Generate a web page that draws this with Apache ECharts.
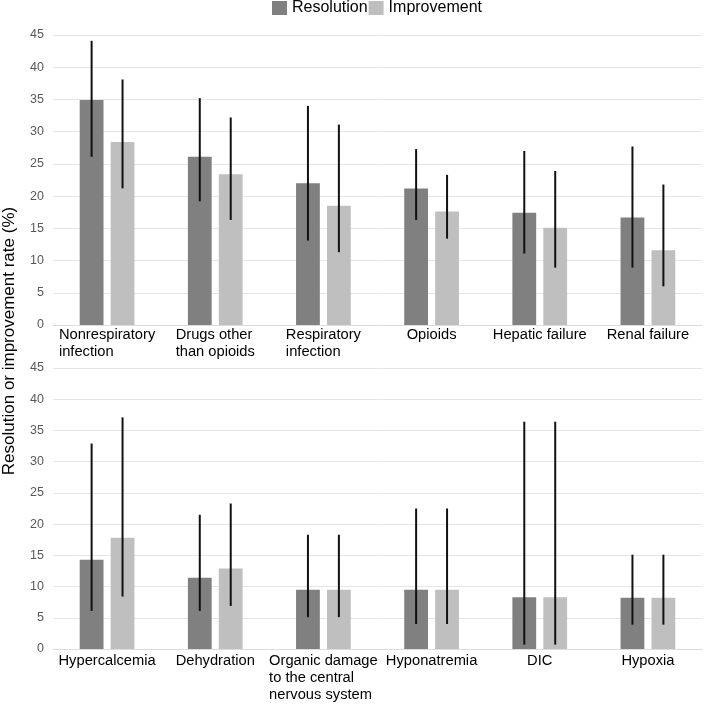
<!DOCTYPE html>
<html>
<head>
<meta charset="utf-8">
<script src="https://cdn.jsdelivr.net/npm/echarts@6/dist/echarts.min.js"></script>
<style>
html,body{margin:0;padding:0;background:#fff;}
#main{width:709px;height:704px;}
</style>
</head>
<body>
<div id="main"></div>
<script>
var topCategories = ['Nonrespiratory\ninfection', 'Drugs other\nthan opioids', 'Respiratory\ninfection', 'Opioids', 'Hepatic failure', 'Renal failure'];
var topResolution = [34.9, 26.1, 22.0, 21.2, 17.4, 16.7];
var topResolutionLow = [26.1, 19.2, 13.1, 16.3, 11.1, 8.9];
var topResolutionHigh = [44.1, 35.2, 34.0, 27.3, 27.0, 27.7];
var topImprovement = [28.4, 23.4, 18.5, 17.6, 15.1, 11.6];
var topImprovementLow = [21.2, 16.3, 11.3, 13.4, 8.9, 6.0];
var topImprovementHigh = [38.1, 32.2, 31.1, 23.3, 23.9, 21.8];

var bottomCategories = ['Hypercalcemia', 'Dehydration', 'Organic damage\nto the central\nnervous system', 'Hyponatremia', 'DIC', 'Hypoxia'];
var bottomResolution = [14.3, 11.4, 9.5, 9.5, 8.3, 8.2];
var bottomResolutionLow = [6.1, 6.1, 5.1, 4.0, 0.7, 3.9];
var bottomResolutionHigh = [32.9, 21.5, 18.3, 22.5, 36.4, 15.1];
var bottomImprovement = [17.8, 12.9, 9.5, 9.5, 8.3, 8.2];
var bottomImprovementLow = [8.4, 6.9, 5.1, 4.0, 0.7, 3.9];
var bottomImprovementHigh = [37.1, 23.3, 18.3, 22.5, 36.4, 15.1];

var yTicks = { min: 0, max: 45, interval: 5 };
var seriesNames = ['Resolution', 'Improvement'];
var yAxisTitle = 'Resolution or improvement rate (%)';

var FONT = 'Liberation Sans, Arial, sans-serif';
var DARK = '#808080', LIGHT = '#bfbfbf';
var BAR_PCT = 0.22, GAP_PCT = 0.3;

function errData(lo, hi) {
  return lo.map(function (v, i) { return [i, v, hi[i]]; });
}
function makeErr(sign) {
  return function (params, api) {
    var x = api.value(0), lo = api.value(1), hi = api.value(2);
    var band = api.size([1, 0])[0];
    var bw = band * BAR_PCT, gap = bw * GAP_PCT;
    var off = sign * (bw + gap) / 2;
    var p1 = api.coord([x, hi]), p2 = api.coord([x, lo]);
    return {
      type: 'line',
      shape: { x1: p1[0] + off, y1: p1[1], x2: p1[0] + off, y2: p2[1] },
      style: { stroke: '#111', lineWidth: 2 }
    };
  };
}
function catFormatter(v) {
  return v.split('\n').map(function (s) { return '{a|' + s + '}'; }).join('\n');
}
function xAxis(idx, cats, margin) {
  return {
    type: 'category', gridIndex: idx, data: cats,
    axisTick: { show: false },
    axisLine: { show: true, lineStyle: { color: '#dcdcdc', width: 1 } },
    axisLabel: {
      interval: 0, margin: margin, formatter: catFormatter,
      rich: { a: { align: 'left', fontSize: 14.7, lineHeight: 17, color: '#000', fontFamily: FONT } }
    }
  };
}
function yAxis(idx) {
  return {
    type: 'value', gridIndex: idx, min: yTicks.min, max: yTicks.max, interval: yTicks.interval,
    axisLine: { show: false }, axisTick: { show: false },
    splitLine: { lineStyle: { color: '#e6e6e6', width: 1 } },
    axisLabel: { color: '#595959', fontSize: 12.5, fontFamily: FONT, margin: 9 }
  };
}
function bar(name, idx, data, color) {
  return {
    name: name, type: 'bar', xAxisIndex: idx, yAxisIndex: idx, data: data,
    barWidth: (BAR_PCT * 100) + '%', barGap: (GAP_PCT * 100) + '%',
    itemStyle: { color: color }
  };
}
function err(idx, lo, hi, sign) {
  return {
    name: 'err', type: 'custom', xAxisIndex: idx, yAxisIndex: idx,
    data: errData(lo, hi), renderItem: makeErr(sign), z: 5, silent: true
  };
}

var chart = echarts.init(document.getElementById('main'));
chart.setOption({
  animation: false,
  textStyle: { fontFamily: FONT },
  legend: {
    data: seriesNames, top: 0, left: 272, padding: 0, icon: 'rect',
    itemWidth: 15, itemHeight: 14, itemGap: 1,
    textStyle: { fontSize: 16, color: '#000', fontFamily: FONT }
  },
  grid: [
    { left: 53, right: 7, top: 35, height: 290 },
    { left: 53, right: 7, top: 368, height: 281 }
  ],
  xAxis: [xAxis(0, topCategories, 1), xAxis(1, bottomCategories, 3)],
  yAxis: [yAxis(0), yAxis(1)],
  graphic: [{
    type: 'text', x: 9, y: 341, rotation: Math.PI / 2,
    style: { text: yAxisTitle, x: 0, y: 0, align: 'center', verticalAlign: 'middle',
      font: '17px ' + FONT, fill: '#000' }
  }],
  series: [
    bar(seriesNames[0], 0, topResolution, DARK),
    bar(seriesNames[1], 0, topImprovement, LIGHT),
    bar(seriesNames[0], 1, bottomResolution, DARK),
    bar(seriesNames[1], 1, bottomImprovement, LIGHT),
    err(0, topResolutionLow, topResolutionHigh, -1),
    err(0, topImprovementLow, topImprovementHigh, 1),
    err(1, bottomResolutionLow, bottomResolutionHigh, -1),
    err(1, bottomImprovementLow, bottomImprovementHigh, 1)
  ]
});
</script>
</body>
</html>
